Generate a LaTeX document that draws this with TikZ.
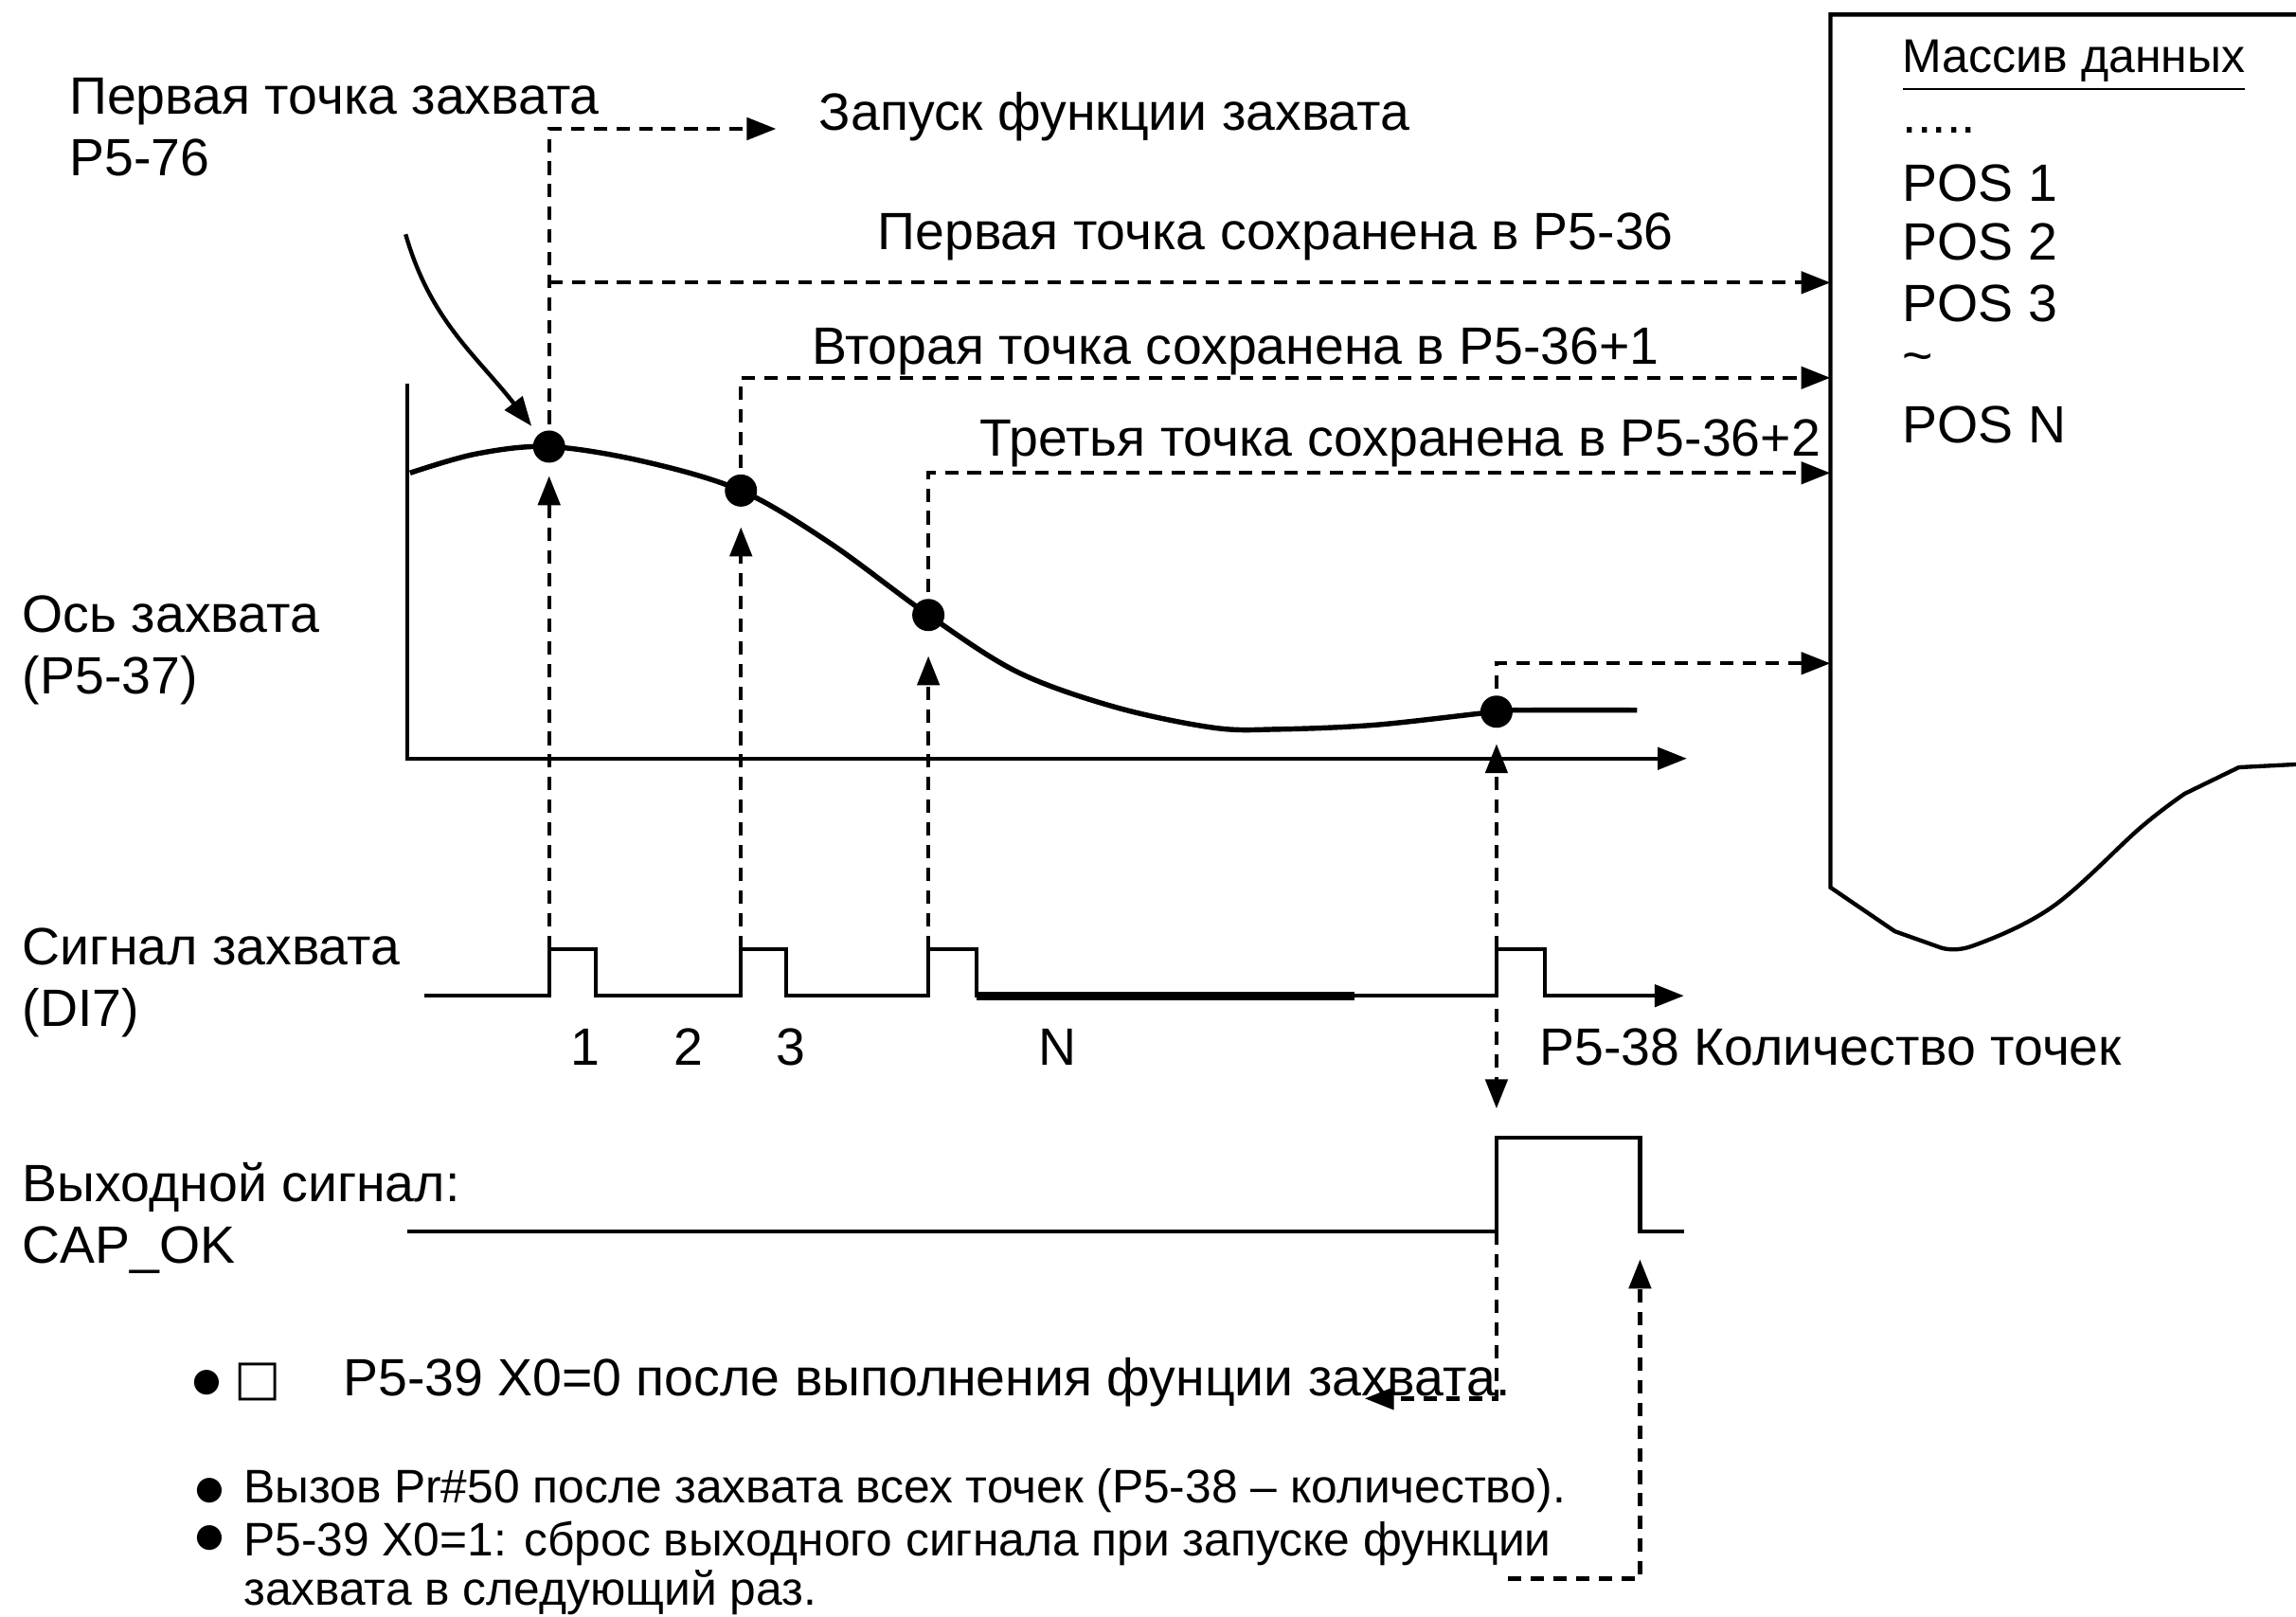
\documentclass[tikz,border=0pt]{standalone}
\usepackage{fontspec}
\setmainfont{Liberation Sans}
\newfontfamily\symfont{DejaVu Sans}
\usetikzlibrary{arrows.meta}

\begin{document}
\begin{tikzpicture}[line width=0.8pt,>={Triangle[length=2mm,width=1.5mm]},
  lbl/.style={anchor=west,inner sep=0pt,align=left,font=\fontsize{10.2}{11.9}\selectfont},
  note/.style={anchor=west,inner sep=0pt,align=left,font=\fontsize{9.15}{9.5}\selectfont},
  bullet/.style={anchor=west,inner sep=0pt,font=\symfont\fontsize{6.3}{7}\selectfont},
  dashln/.style={dash pattern=on 2.6pt off 1.8pt},
  capdot/.style={circle,fill,inner sep=0pt,minimum width=2mm,minimum height=2.2mm}]
\useasboundingbox (0,0) rectangle (15.68,11.04);
\def\yl{4.24}\def\yh{4.56}
% ---------- points on the curve and pulse edges ----------
\coordinate (d1) at (3.75,7.99);
\coordinate (d2) at (5.06,7.69);
\coordinate (d3) at (6.34,6.84);
\coordinate (d4) at (10.22,6.18);
\coordinate (p1) at (3.75,\yh);
\coordinate (p2) at (5.06,\yh);
\coordinate (p3) at (6.34,\yh);
\coordinate (p4) at (10.22,\yh);
\coordinate (t1) at (3.75,7.79);
\coordinate (t2) at (5.06,7.44);
\coordinate (t3) at (6.34,6.56);
\coordinate (t4) at (10.22,5.96);
\coordinate (launch) at (5.30,10.16);
\coordinate (b1) at (3.75,9.11);
\coordinate (in1) at (12.50,9.11);
\coordinate (in2) at (12.50,8.46);
\coordinate (in3) at (12.50,7.81);
\coordinate (in4) at (12.50,6.51);
% ---------- data array box ----------
\draw (15.68,10.94) -- (12.50,10.94) -- (12.50,4.98) -- (12.94,4.68) -- (13.25,4.57)
  plot[smooth,tension=0.6] coordinates {(13.25,4.57) (13.47,4.58) (14.02,4.85) (14.62,5.39) (14.92,5.62)}
  -- (15.29,5.80) -- (15.68,5.82);
\node[lbl,font=\fontsize{9.2}{11}\selectfont] (arrtitle) at (12.98,10.59) {\underline{Массив данных}};
\node[lbl,anchor=base west] (arrdots) at (12.98,10.13) {.....};
\foreach \y/\txt [count=\i] in {9.79/POS 1,9.39/POS 2,8.97/POS 3,8.56/\textasciitilde,8.14/POS N}{
  \node[lbl] (pos\i) at (12.98,\y) {\txt};
}
% ---------- capture axis and curve ----------
\draw[->] (2.78,8.42) |- (11.52,5.86);
\draw[line width=1pt] plot[smooth,tension=0.55] coordinates {(2.80,7.81) (3.25,7.94) (d1)
  (4.39,7.89) (d2) (5.67,7.33) (d3) (6.95,6.45) (7.62,6.21) (8.29,6.07) (8.73,6.06)
  (9.40,6.09) (d4) (10.45,6.19) (11.18,6.19)};
\draw[->] (2.77,9.44) to[out=-74,in=128] (3.63,8.13);
% ---------- dashed connectors ----------
\foreach \i in {1,2,3,4}{
  \draw[dashln,->] (p\i) -- (t\i);
}
\draw[dashln,->] (d1) |- (launch);
\draw[dashln,->] (b1) -- (in1);
\draw[dashln,->] (d2) |- (in2);
\draw[dashln,->] (d3) |- (in3);
\draw[dashln,->] (d4) |- (in4);
\foreach \i in {1,2,3,4}{
  \node[capdot] (dot\i) at (d\i) {};
}
% ---------- capture signal DI7 ----------
\draw[->] (2.90,\yl) -| (3.75,\yh) -| (4.07,\yl) -| (5.06,\yh) -| (5.37,\yl)
  -| (6.34,\yh) -| (6.67,\yl) -| (10.22,\yh) -| (10.55,\yl) -- (11.50,\yl);
\draw[line width=1.7pt] (6.67,\yl) -- (9.25,\yl);
\coordinate (q4) at (10.22,4.15);
\coordinate (cdown) at (10.22,3.47);
\draw[dashln,->] (q4) -- (cdown);
% ---------- output signal CAP_OK ----------
\coordinate (crise) at (10.22,2.63);
\coordinate (cfall) at (11.20,2.44);
\coordinate (back) at (9.32,1.49);
\coordinate (r0) at (10.30,0.26);
\draw (2.78,2.63) -| (10.22,3.27) -| (11.20,2.63) -- (11.50,2.63);
\draw[dashln,->] (crise) |- (back);
\draw[dashln,->] (r0) -| (cfall);
% ---------- labels ----------
\node[lbl] (firstcap) at (0.46,10.17) {Первая точка захвата\\P5-76};
\node[lbl] (launchtxt) at (5.58,10.24) {Запуск функции захвата};
\node[lbl] (save1) at (5.98,9.42) {Первая точка сохранена в P5-36};
\node[lbl] (save2) at (5.53,8.64) {Вторая точка сохранена в P5-36+1};
\node[lbl] (save3) at (6.68,8.01) {Третья точка сохранена в P5-36+2};
\node[lbl] (axislbl) at (0.14,6.60) {Ось захвата\\(P5-37)};
\node[lbl] (siglbl) at (0.14,4.33) {Сигнал захвата\\(DI7)};
\node[lbl] (outlbl) at (0.14,2.72) {Выходной сигнал:\\CAP\_OK};
\foreach \x/\txt [count=\i] in {4.00/1,4.70/2,5.40/3,7.22/N}{
  \node[lbl,anchor=center] (num\i) at (\x,3.89) {\txt};
}
\node[lbl] (cnt) at (10.50,3.89) {P5-38 Количество точек};
% ---------- notes ----------
\node[bullet] (mark0) at (1.30,1.60) {●};
\node[lbl,font=\symfont\fontsize{9.6}{11}\selectfont] (box0) at (1.59,1.60) {□};
\node[lbl] (note1) at (2.33,1.60) {P5-39 X0=0 после выполнения фунции захвата.};
\node[bullet] (mark1) at (1.32,0.86) {●};
\node[note] (note2) at (1.65,0.86) {Вызов Pr\#50 после захвата всех точек (P5-38 – количество).};
\node[bullet] (mark2) at (1.32,0.54) {●};
\node[note,anchor=north west] (note3) at (1.65,0.665) {P5-39 X0=1: сброс выходного сигнала при запуске функции\\захвата в следующий раз.};
\end{tikzpicture}
\end{document}
